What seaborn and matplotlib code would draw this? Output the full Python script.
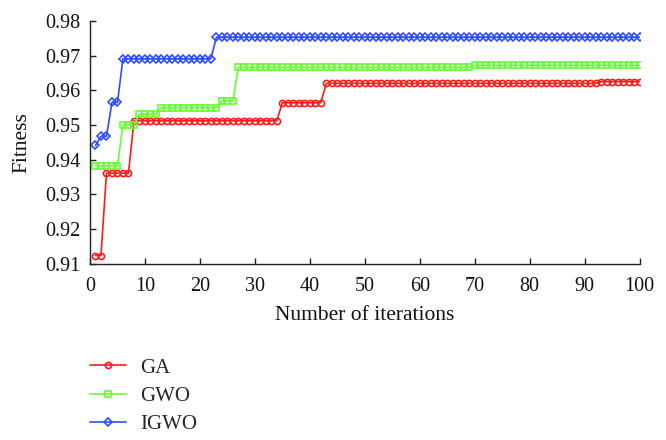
import numpy as np
import pandas as pd
import matplotlib
matplotlib.use("Agg")
import matplotlib.pyplot as plt
import seaborn as sns

iterations = list(range(1, 101))
ga = [0.9123]*2 + [0.9361]*5 + [0.9512]*27 + [0.9564]*8 + [0.9620]*50 + [0.9625]*8
gwo = [0.9382]*5 + [0.9501]*3 + [0.9531]*4 + [0.9550]*11 + [0.9569]*3 + [0.9666]*43 + [0.9672]*31
igwo = [0.9441] + [0.9467]*2 + [0.9565]*2 + [0.9691]*17 + [0.9753]*78

series_names = ["GA", "GWO", "IGWO"]
series_values = [ga, gwo, igwo]
colors = ["#ff1a1a", "#66ff33", "#2f4dff"]
markers = ["o", "s", "D"]
msizes = [4.4, 3.9, 4.0]

sns.set_style("ticks")
plt.rcParams["font.family"] = ["Liberation Serif", "DejaVu Serif"]

fig = plt.figure(figsize=(6.66, 4.4), dpi=100)
ax = fig.add_axes([90/666, (440-263.5)/440, (639.5-90)/666, (263.5-21)/440])

for name, vals, c, m, ms in zip(series_names, series_values, colors, markers, msizes):
    df = pd.DataFrame({"Iteration": iterations, "Fitness": vals})
    sns.lineplot(data=df, x="Iteration", y="Fitness", ax=ax, color=c, marker=m,
                 markersize=ms, markerfacecolor="none", markeredgecolor=c,
                 markeredgewidth=1.2, linewidth=1.2, label=name)

ax.set_xlim(0, 100)
ax.set_ylim(0.91, 0.98)
ax.set_xticks(np.arange(0, 101, 10))
ax.set_yticks(np.round(np.arange(0.91, 0.9801, 0.01), 2))
ax.set_yticklabels([f"{v:.2f}" for v in np.arange(0.91, 0.9801, 0.01)])
ax.tick_params(direction="in", length=4.5, width=1, labelsize=14.5, colors="#222222",
               labelcolor="#111111")
ax.tick_params(axis="x", pad=10)
ax.tick_params(axis="y", pad=7)
for s in ["top", "right"]:
    ax.spines[s].set_visible(False)
for s in ["left", "bottom"]:
    ax.spines[s].set_linewidth(1)
    ax.spines[s].set_color("#222222")

ax.set_xlabel("Number of iterations", fontsize=15.5, color="#111111", labelpad=7)
ax.set_ylabel("Fitness", fontsize=15.5, color="#111111", labelpad=10)

handles, labels = ax.get_legend_handles_labels()
ax.get_legend().remove()
fig.legend(handles, labels, loc="upper left", bbox_to_anchor=(90/666, (440-358)/440),
           frameon=False, fontsize=15, borderpad=0, borderaxespad=0,
           handlelength=1.75, handletextpad=0.65, labelspacing=0.42)

fig.savefig("out.png", dpi=100)
